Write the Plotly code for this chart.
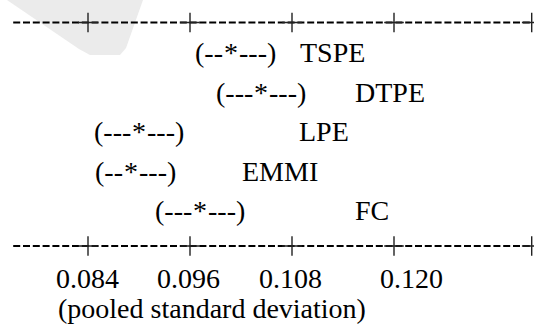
import plotly.graph_objects as go

# ---------------- data ----------------
groups = ["TSPE", "DTPE", "LPE", "EMMI", "FC"]
means = [0.1008, 0.1044, 0.0900, 0.0890, 0.0972]
left_arms = ["(--", "(---", "(---", "(--", "(---"]
right_arms = ["---)", "---)", "---)", "---)", "---)"]
tick_values = [0.084, 0.096, 0.108, 0.120]
tick_labels = ["0.084", "0.096", "0.108", "0.120"]
scale_start = 0.0752
scale_end = 0.1362
axis_title = "(pooled standard deviation)"

# ---------------- layout constants ----------------
W, H = 534, 326
px_per_unit = 102 / 0.012
x_lo = 0.084 - 88 / px_per_unit
x_hi = x_lo + W / px_per_unit
row_top_px, row_step_px = 52.5, 39.6
row_y = [row_top_px + row_step_px * i for i in range(len(groups))]
label_left_px = [299, 354, 298, 241, 354]
top_line_px, bottom_line_px = 22.5, 246
tick_label_px, title_px = 278.5, 308
tick_label_shift = [-1, -2, -2, 17]
star_half = 7

FONT = dict(family="Liberation Serif, Times New Roman, serif", size=28, color="black")

fig = go.Figure()

# ruler lines (top and bottom)
for ly in (top_line_px, bottom_line_px):
    fig.add_trace(go.Scatter(
        x=[scale_start, scale_end], y=[ly, ly], mode="lines",
        line=dict(color="black", width=2, dash="7px,2.8px"),
        hoverinfo="skip", showlegend=False))
    fig.add_trace(go.Scatter(
        x=tick_values + [scale_end], y=[ly] * (len(tick_values) + 1), mode="markers",
        marker=dict(symbol="cross-thin", size=14, line=dict(color="#222222", width=1.4)),
        hoverinfo="skip", showlegend=False))

ann = []
for i, g in enumerate(groups):
    y = row_y[i]
    ann.append(dict(x=means[i], y=y, text="*", xanchor="center", yanchor="middle"))
    ann.append(dict(x=means[i], y=y, text=left_arms[i], xanchor="right", yanchor="middle",
                    xshift=-star_half))
    ann.append(dict(x=means[i], y=y, text=right_arms[i], xanchor="left", yanchor="middle",
                    xshift=star_half))
    ann.append(dict(x=label_left_px[i] / W, xref="paper", y=y, text=g,
                    xanchor="left", yanchor="middle"))

for v, t, s in zip(tick_values, tick_labels, tick_label_shift):
    ann.append(dict(x=v, y=tick_label_px, text=t, xanchor="center", yanchor="middle", xshift=s))

ann.append(dict(x=57 / W, xref="paper", y=title_px, text=axis_title,
                xanchor="left", yanchor="middle"))

for a in ann:
    a.setdefault("xref", "x")
    a["yref"] = "y"
    a["showarrow"] = False
    a["font"] = FONT
    a["borderpad"] = 0

# faint watermark shape (top-left)
pts = [(7, 0), (143, 0), (126, 48), (120, 55), (90, 55), (79, 49)]
path = "M " + " L ".join(f"{px / W:.4f},{1 - py / H:.4f}" for px, py in pts) + " Z"

fig.update_layout(
    width=W, height=H,
    margin=dict(l=0, r=0, t=0, b=0),
    paper_bgcolor="white", plot_bgcolor="white",
    xaxis=dict(range=[x_lo, x_hi], visible=False, fixedrange=True),
    yaxis=dict(range=[H, 0], visible=False, fixedrange=True),
    annotations=ann,
    shapes=[dict(type="path", path=path, xref="paper", yref="paper",
                 fillcolor="#ebebeb", line=dict(width=0), layer="below")],
    showlegend=False,
)

fig.write_html("out.html", config={"displayModeBar": False},
               post_script="document.body.style.margin='0';document.body.style.overflow='hidden';")
